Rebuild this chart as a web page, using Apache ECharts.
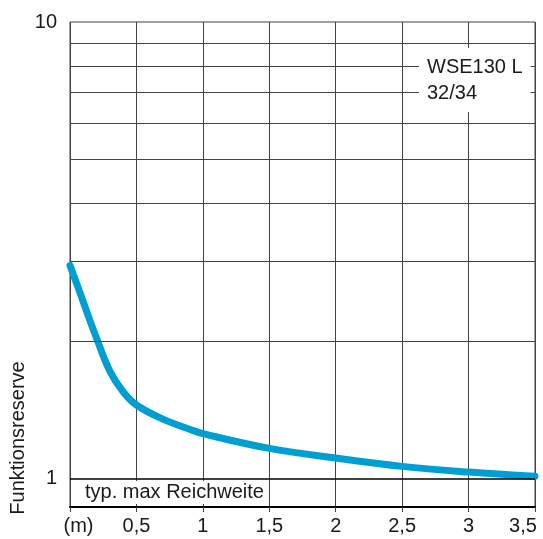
<!DOCTYPE html>
<html>
<head>
<meta charset="utf-8">
<script src="https://cdn.jsdelivr.net/npm/echarts@6/dist/echarts.min.js"></script>
<style>
html,body{margin:0;padding:0;background:#fff;}
#chart{width:543px;height:539px;}
</style>
</head>
<body>
<div id="chart"></div>
<script>
// Data
const distance = [0, 0.07, 0.145, 0.2, 0.3, 0.4, 0.5, 0.7, 0.9, 1, 1.5, 2, 2.5, 3, 3.5];
const reserve  = [2.93, 2.58, 2.24, 2.03, 1.72, 1.55, 1.45, 1.35, 1.283, 1.255, 1.165, 1.11, 1.064, 1.034, 1.012];

const xTickValues = [0, 0.5, 1, 1.5, 2, 2.5, 3, 3.5];
const xTickLabels = ['(m)', '0,5', '1', '1,5', '2', '2,5', '3', '3,5'];
const yTickValues = [1, 10];
const yTickLabels = ['1', '10'];
const yGridValues = [2, 3, 4, 5, 6, 7, 8, 9];
const modelLabel = ['WSE130 L', '32/34'];
const rangeNote = 'typ. max Reichweite';
const yAxisName = 'Funktionsreserve';

const FONT = 'Liberation Sans';
const TXT = '#1a1a1a';
const GRIDC = '#444444';

const chart = echarts.init(document.getElementById('chart'), null, {renderer: 'canvas'});

function xLabel(v) {
  const i = xTickValues.findIndex(t => Math.abs(t - v) < 1e-6);
  if (i < 0) return '';
  if (i === 0) return '{first|' + xTickLabels[i] + '}';
  if (i === xTickValues.length - 1) return '{last|' + xTickLabels[i] + '}';
  return xTickLabels[i];
}
function yLabel(v) {
  const i = yTickValues.findIndex(t => Math.abs(t - v) < 1e-6 * t);
  return i < 0 ? '' : yTickLabels[i];
}

const option = {
  animation: false,
  textStyle: {fontFamily: FONT},
  grid: {left: 70, right: 8, top: 22, bottom: 32, show: true, borderColor: GRIDC, borderWidth: 1, containLabel: false},
  title: [
    {
      text: modelLabel.join('\n'),
      left: 419, top: 48,
      padding: [6, 8, 6, 8],
      backgroundColor: '#fff',
      textStyle: {fontFamily: FONT, fontSize: 20, fontWeight: 'normal', lineHeight: 26, color: TXT}
    },
    {
      text: rangeNote,
      left: 80, top: 481,
      padding: [0, 5, 0, 5],
      backgroundColor: '#fff',
      textStyle: {fontFamily: FONT, fontSize: 20, fontWeight: 'normal', lineHeight: 23, color: TXT}
    }
  ],
  graphic: [{
    type: 'text',
    x: 18, y: 438,
    rotation: Math.PI / 2,
    style: {text: yAxisName, font: '20px "' + FONT + '"', fill: TXT, align: 'center', verticalAlign: 'middle'}
  }],
  xAxis: {
    type: 'value', min: 0, max: 3.5, interval: 0.5,
    axisLine: {show: true, lineStyle: {color: '#000', width: 2}},
    axisTick: {show: true, length: 5, lineStyle: {color: GRIDC, width: 1}},
    splitLine: {show: true, lineStyle: {color: GRIDC, width: 1}},
    axisLabel: {
      show: true, fontSize: 20, color: TXT, margin: 9, fontFamily: FONT,
      showMinLabel: true, showMaxLabel: true, hideOverlap: false,
      formatter: xLabel,
      rich: {
        first: {fontSize: 20, fontFamily: FONT, color: TXT, padding: [0, 0, 0, 17]},
        last: {fontSize: 20, fontFamily: FONT, color: TXT, padding: [0, 24, 0, 0]}
      }
    }
  },
  yAxis: {
    type: 'log', logBase: 10, min: 0.867, max: 10,
    axisLine: {show: false},
    axisTick: {show: false},
    splitLine: {show: false},
    axisLabel: {show: true, fontSize: 20, color: TXT, margin: 13, fontFamily: FONT, showMinLabel: true, showMaxLabel: true, formatter: yLabel}
  },
  series: [
    {
      type: 'line', data: [], z: 1, silent: true,
      markLine: {
        silent: true, symbol: ['none', 'none'], animation: false,
        label: {show: false},
        lineStyle: {color: GRIDC, width: 1, type: 'solid'},
        emphasis: {disabled: true},
        data: yGridValues.map(v => ({yAxis: v})).concat([{yAxis: 1, lineStyle: {color: '#000', width: 1.5, type: 'solid'}}])
      }
    },
    {
      type: 'line', z: 3,
      data: distance.map((d, i) => [d, reserve[i]]),
      smooth: 0.4,
      showSymbol: false,
      lineStyle: {color: '#009FD3', width: 7, cap: 'round', join: 'round'}
    }
  ]
};
chart.setOption(option);
</script>
</body>
</html>
